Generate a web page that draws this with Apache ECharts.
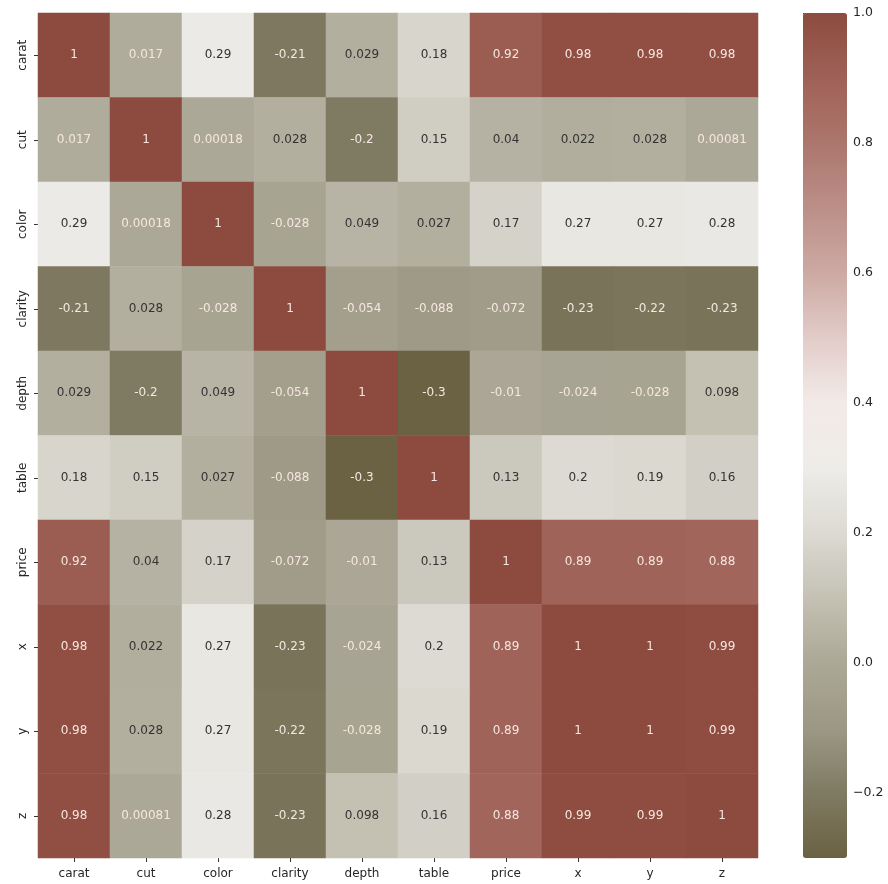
<!DOCTYPE html>
<html>
<head>
<meta charset="utf-8">
<script src="https://cdn.jsdelivr.net/npm/echarts@6/dist/echarts.min.js"></script>
<style>
html,body{margin:0;padding:0;background:#fff;}
#chart{width:888px;height:884px;}
</style>
</head>
<body>
<div id="chart"></div>
<script>
const labels = ['carat','cut','color','clarity','depth','table','price','x','y','z'];
const rowCarat   = [1, 0.017, 0.29, -0.21, 0.029, 0.18, 0.92, 0.98, 0.98, 0.98];
const rowCut     = [0.017, 1, 0.00018, 0.028, -0.2, 0.15, 0.04, 0.022, 0.028, 0.00081];
const rowColor   = [0.29, 0.00018, 1, -0.028, 0.049, 0.027, 0.17, 0.27, 0.27, 0.28];
const rowClarity = [-0.21, 0.028, -0.028, 1, -0.054, -0.088, -0.072, -0.23, -0.22, -0.23];
const rowDepth   = [0.029, -0.2, 0.049, -0.054, 1, -0.3, -0.01, -0.024, -0.028, 0.098];
const rowTable   = [0.18, 0.15, 0.027, -0.088, -0.3, 1, 0.13, 0.2, 0.19, 0.16];
const rowPrice   = [0.92, 0.04, 0.17, -0.072, -0.01, 0.13, 1, 0.89, 0.89, 0.88];
const rowX       = [0.98, 0.022, 0.27, -0.23, -0.024, 0.2, 0.89, 1, 1, 0.99];
const rowY       = [0.98, 0.028, 0.27, -0.22, -0.028, 0.19, 0.89, 1, 1, 0.99];
const rowZ       = [0.98, 0.00081, 0.28, -0.23, 0.098, 0.16, 0.88, 0.99, 0.99, 1];
const colorbarTicks = [-0.2, 0, 0.2, 0.4, 0.6, 0.8, 1.0];
const vMin = -0.3, vMax = 1.0;

const rows = [rowCarat,rowCut,rowColor,rowClarity,rowDepth,rowTable,rowPrice,rowX,rowY,rowZ];
const palette = ['#6a6243','#7f7a62','#9d9885','#aca897','#c4c1b4','#dcdad2','#eeece8',
                 '#f3eae8','#e2ccc8','#cda9a3','#bb8f88','#ac766d','#9f6157','#8d4b3f'];
const FONT = 'DejaVu Sans';

const data = [];
rows.forEach((r, yi) => {
  r.forEach((v, xi) => {
    const dark = (v >= 0.02 && v <= 0.7);
    data.push({
      value: [xi, yi, v],
      label: { color: dark ? '#333333' : '#f6e6e0' }
    });
  });
});

const chart = echarts.init(document.getElementById('chart'), null, {renderer:'canvas'});
chart.setOption({
  animation: false,
  backgroundColor: '#ffffff',
  grid: [
    {left: 38, right: 130, top: 13, bottom: 26},
    {left: 803, width: 44, top: 13, height: 845}
  ],
  xAxis: [
    {type: 'category', data: labels, gridIndex: 0,
     axisLine: {show: false},
     axisTick: {show: true, alignWithLabel: true, length: 4, lineStyle: {color: '#333'}},
     axisLabel: {fontFamily: FONT, fontSize: 12, color: '#262626', margin: 10},
     splitLine: {show: false}},
    {type: 'value', gridIndex: 1, show: false, min: 0, max: 1}
  ],
  yAxis: [
    {type: 'category', data: labels, gridIndex: 0, inverse: true,
     axisLine: {show: false},
     axisTick: {show: true, alignWithLabel: true, length: 4, lineStyle: {color: '#333'}},
     axisLabel: {fontFamily: FONT, fontSize: 12, color: '#262626', rotate: 90, margin: 9},
     splitLine: {show: false}},
    {type: 'value', gridIndex: 1, min: vMin, max: vMax, position: 'right',
     axisLine: {show: false},
     splitLine: {show: false},
     axisTick: {show: true, length: 4, customValues: colorbarTicks, lineStyle: {color: '#333'}},
     axisLabel: {show: true, customValues: colorbarTicks, fontFamily: FONT, fontSize: 12.5, color: '#262626', margin: 6,
       formatter: v => v.toFixed(1).replace('-', '\u2212')}}
  ],
  visualMap: {
    type: 'continuous', min: vMin, max: vMax, seriesIndex: 0,
    calculable: false, orient: 'vertical', left: 803, top: 13,
    itemWidth: 44, itemHeight: 845, padding: 0,
    text: null, showLabel: false,
    inRange: {color: palette}
  },
  series: [{
    type: 'heatmap', xAxisIndex: 0, yAxisIndex: 0,
    data: data,
    label: {show: true, fontFamily: FONT, fontSize: 12,
      formatter: p => String(p.value[2])},
    itemStyle: {borderWidth: 0},
    emphasis: {disabled: true}
  }]
});
</script>
</body>
</html>
